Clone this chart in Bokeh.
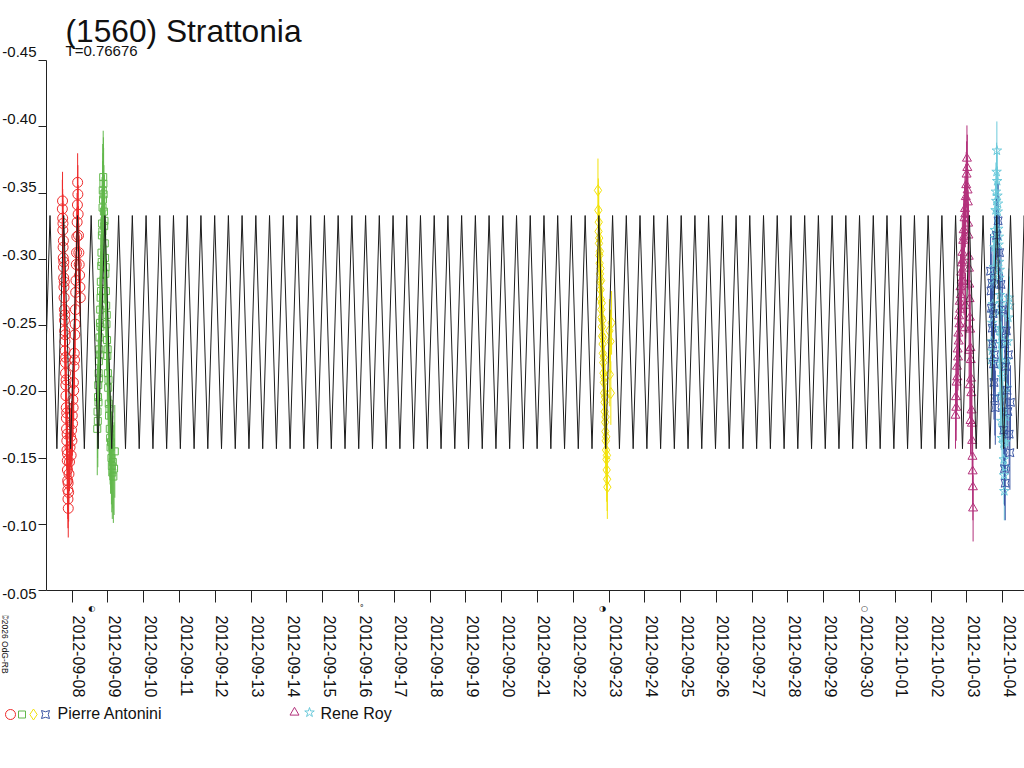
import math
from bokeh.plotting import figure
from bokeh.models import (Range1d, FixedTicker, ColumnDataSource, LabelSet, Label,
                          CustomJSTickFormatter)
from bokeh.core.properties import value
from bokeh.layouts import column, row
from bokeh.embed import file_html
from bokeh.resources import INLINE

# ---------------- data ----------------
TITLE = "(1560) Strattonia"
PERIOD_LABEL = "T=0.76676"
CREDIT = "\u00a92026 OdG-RB"

# x: days since 2012-09-08 00:00 UT
DATE_LABELS = ["2012-09-08", "2012-09-09", "2012-09-10", "2012-09-11", "2012-09-12",
               "2012-09-13", "2012-09-14", "2012-09-15", "2012-09-16", "2012-09-17",
               "2012-09-18", "2012-09-19", "2012-09-20", "2012-09-21", "2012-09-22",
               "2012-09-23", "2012-09-24", "2012-09-25", "2012-09-26", "2012-09-27",
               "2012-09-28", "2012-09-29", "2012-09-30", "2012-10-01", "2012-10-02",
               "2012-10-03", "2012-10-04"]
Y_TICKS = [-0.45, -0.40, -0.35, -0.30, -0.25, -0.20, -0.15, -0.10, -0.05]
Y_TICK_LABELS = ["-0.45", "-0.40", "-0.35", "-0.30", "-0.25", "-0.20", "-0.15", "-0.10", "-0.05"]

# moon phases (last quarter, new, first quarter, full)
MOON_DAYS = [0.552, 8.091, 14.820, 22.138]
MOON_SYMBOLS = ["\u25d0", "\u00b0", "\u25d1", "\u25cb"]

# model light curve: times of maxima (bright) and minima (faint)
CURVE_BRIGHT = -0.333
CURVE_FAINT = -0.157
CURVE_MAX_T = [-0.620, -0.237, 0.147, 0.530, 0.914, 1.297, 1.680, 2.064, 2.447, 2.830,
               3.214, 3.597, 3.981, 4.364, 4.747, 5.131, 5.514, 5.897, 6.281, 6.664,
               7.048, 7.431, 7.814, 8.198, 8.581, 8.965, 9.348, 9.731, 10.115, 10.498,
               10.881, 11.265, 11.648, 12.032, 12.415, 12.798, 13.182, 13.565, 13.948, 14.332,
               14.715, 15.099, 15.482, 15.865, 16.249, 16.632, 17.016, 17.399, 17.782, 18.166,
               18.549, 18.932, 19.316, 19.699, 20.083, 20.466, 20.849, 21.233, 21.616, 21.999,
               22.383, 22.766, 23.150, 23.533, 23.916, 24.300, 24.683, 25.067, 25.450, 25.833,
               26.217, 26.600]
CURVE_MIN_T = [-0.812, -0.428, -0.045, 0.339, 0.722, 1.105, 1.489, 1.872, 2.256, 2.639,
               3.022, 3.406, 3.789, 4.172, 4.556, 4.939, 5.323, 5.706, 6.089, 6.473,
               6.856, 7.239, 7.623, 8.006, 8.390, 8.773, 9.156, 9.540, 9.923, 10.306,
               10.690, 11.073, 11.457, 11.840, 12.223, 12.607, 12.990, 13.374, 13.757, 14.140,
               14.524, 14.907, 15.290, 15.674, 16.057, 16.441, 16.824, 17.207, 17.591, 17.974,
               18.357, 18.741, 19.124, 19.508, 19.891, 20.274, 20.658, 21.041, 21.424, 21.808,
               22.191, 22.575, 22.958, 23.341, 23.725, 24.108, 24.491, 24.875, 25.258, 25.642,
               26.025, 26.408, 26.792]

# Pierre Antonini, 2012-09-08 (circles)
RED_T = [-0.275, -0.270, -0.266, -0.262, -0.258, -0.254, -0.250, -0.246, -0.242, -0.238,
         -0.234, -0.230, -0.226, -0.222, -0.218, -0.214, -0.210, -0.206, -0.202, -0.198,
         -0.194, -0.190, -0.186, -0.182, -0.178, -0.174, -0.170, -0.166, -0.162, -0.158,
         -0.154, -0.150, -0.146, -0.142, -0.138, -0.134, -0.130, -0.126, -0.122, -0.118,
         -0.114, -0.110, -0.100, -0.090, -0.075, -0.060, -0.045, -0.030, -0.018, -0.008,
         0.002, 0.010, 0.018, 0.026, 0.034, 0.042, 0.050, 0.058, 0.066, 0.074,
         0.082, 0.090, 0.098, 0.106, 0.114, 0.122, 0.130, 0.138, 0.146, 0.152,
         0.158, 0.166, 0.176, 0.186, 0.196, 0.206, 0.216, 0.226]
RED_MAG = [-0.338, -0.344, -0.331, -0.322, -0.327, -0.309, -0.301, -0.314, -0.294, -0.286,
           -0.298, -0.279, -0.271, -0.283, -0.262, -0.254, -0.246, -0.258, -0.238, -0.231,
           -0.243, -0.222, -0.214, -0.226, -0.205, -0.197, -0.209, -0.188, -0.180, -0.172,
           -0.184, -0.163, -0.156, -0.168, -0.148, -0.141, -0.153, -0.133, -0.126, -0.119,
           -0.131, -0.112, -0.124, -0.138, -0.147, -0.158, -0.166, -0.152, -0.171, -0.163,
           -0.182, -0.176, -0.194, -0.188, -0.207, -0.201, -0.219, -0.229, -0.224, -0.243,
           -0.251, -0.262, -0.275, -0.284, -0.296, -0.305, -0.317, -0.328, -0.341, -0.358,
           -0.349, -0.334, -0.318, -0.305, -0.296, -0.288, -0.279, -0.271]
RED_ERR = 0.022

# Pierre Antonini, 2012-09-08/09 (squares)
GREEN_T = [0.700, 0.708, 0.716, 0.722, 0.728, 0.734, 0.740, 0.746, 0.752, 0.758,
           0.764, 0.770, 0.776, 0.782, 0.788, 0.794, 0.800, 0.806, 0.812, 0.818,
           0.824, 0.830, 0.836, 0.842, 0.848, 0.854, 0.860, 0.866, 0.872, 0.878,
           0.886, 0.894, 0.902, 0.910, 0.918, 0.926, 0.934, 0.942, 0.950, 0.958,
           0.966, 0.974, 0.982, 0.990, 0.998, 1.006, 1.014, 1.022, 1.030, 1.040,
           1.050, 1.060, 1.072, 1.084, 1.096, 1.108, 1.120, 1.135, 1.150, 1.170, 1.190]
GREEN_MAG = [-0.172, -0.185, -0.178, -0.196, -0.205, -0.192, -0.214, -0.223, -0.210, -0.232,
             -0.241, -0.228, -0.252, -0.262, -0.249, -0.271, -0.283, -0.276, -0.295, -0.305,
             -0.298, -0.318, -0.327, -0.321, -0.339, -0.352, -0.345, -0.362, -0.357, -0.349,
             -0.336, -0.325, -0.329, -0.312, -0.301, -0.289, -0.294, -0.276, -0.265, -0.251,
             -0.258, -0.239, -0.227, -0.232, -0.214, -0.203, -0.209, -0.191, -0.182, -0.187,
             -0.172, -0.165, -0.158, -0.162, -0.150, -0.144, -0.139, -0.147, -0.136, -0.142, -0.155]
GREEN_ERR = 0.035

# Pierre Antonini, 2012-09-22/23 (diamonds)
YELLOW_T = [14.690, 14.700, 14.706, 14.712, 14.718, 14.724, 14.730, 14.736, 14.742, 14.748,
            14.754, 14.760, 14.766, 14.772, 14.778, 14.784, 14.790, 14.796, 14.802, 14.808,
            14.814, 14.820, 14.826, 14.832, 14.838, 14.844, 14.850, 14.856, 14.862, 14.868,
            14.874, 14.880, 14.886, 14.892, 14.898, 14.904, 14.910, 14.916, 14.922, 14.928,
            14.934, 14.940, 14.946, 14.952, 15.010, 15.040, 15.070, 15.020, 15.050]
YELLOW_MAG = [-0.352, -0.337, -0.321, -0.328, -0.312, -0.316, -0.303, -0.297, -0.306, -0.289,
              -0.283, -0.293, -0.277, -0.270, -0.284, -0.262, -0.256, -0.267, -0.249, -0.242,
              -0.254, -0.236, -0.229, -0.241, -0.222, -0.214, -0.226, -0.207, -0.199, -0.211,
              -0.192, -0.185, -0.196, -0.177, -0.170, -0.181, -0.163, -0.156, -0.166, -0.149,
              -0.141, -0.152, -0.134, -0.128, -0.246, -0.238, -0.252, -0.213, -0.199]
YELLOW_ERR = 0.024

# Pierre Antonini, 2012-10-03/04 (square pins)
BLUE_T = [25.660, 25.672, 25.684, 25.696, 25.708, 25.720, 25.732, 25.744, 25.756, 25.768,
          25.780, 25.792, 25.830, 25.870, 25.910, 25.950, 25.990, 26.030, 26.060, 26.080,
          26.100, 26.120, 26.140, 26.160, 26.180, 26.200, 26.215, 26.050, 26.070]
BLUE_MAG = [-0.291, -0.276, -0.263, -0.282, -0.248, -0.236, -0.259, -0.221, -0.207, -0.228,
            -0.195, -0.188, -0.318, -0.329, -0.305, -0.281, -0.262, -0.171, -0.236, -0.219,
            -0.246, -0.201, -0.185, -0.228, -0.168, -0.154, -0.192, -0.142, -0.131]
BLUE_ERR = 0.028

# Rene Roy, 2012-10-02/03 (triangles)
MAGENTA_T = [24.680, 24.690, 24.700, 24.710, 24.720, 24.730, 24.740, 24.750, 24.760, 24.770,
             24.780, 24.790, 24.800, 24.810, 24.820, 24.830, 24.840, 24.850, 24.860, 24.872,
             24.884, 24.896, 24.908, 24.920, 24.932, 24.944, 24.956, 24.968, 24.980, 24.990,
             25.000, 25.010, 25.018, 25.026, 25.034, 25.042, 25.050, 25.058, 25.066, 25.074,
             25.082, 25.090, 25.098, 25.106, 25.114, 25.122, 25.130, 25.138, 25.146, 25.154,
             25.160, 25.166, 25.172, 25.100, 25.080, 25.060, 24.960, 24.940, 24.920]
MAGENTA_MAG = [-0.182, -0.196, -0.188, -0.207, -0.219, -0.211, -0.232, -0.226, -0.244, -0.238,
               -0.257, -0.251, -0.268, -0.262, -0.279, -0.273, -0.290, -0.284, -0.297, -0.305,
               -0.299, -0.314, -0.322, -0.317, -0.331, -0.338, -0.334, -0.347, -0.356, -0.364,
               -0.376, -0.369, -0.352, -0.343, -0.327, -0.318, -0.302, -0.293, -0.281, -0.270,
               -0.256, -0.247, -0.233, -0.224, -0.210, -0.199, -0.186, -0.176, -0.163, -0.151,
               -0.140, -0.128, -0.112, -0.178, -0.205, -0.231, -0.265, -0.248, -0.283]
MAGENTA_ERR = 0.025

# Rene Roy, 2012-10-03/04 (stars)
CYAN_T = [25.680, 25.690, 25.700, 25.710, 25.720, 25.730, 25.740, 25.750, 25.760, 25.770,
          25.780, 25.790, 25.800, 25.810, 25.820, 25.828, 25.836, 25.844, 25.852, 25.860,
          25.868, 25.876, 25.884, 25.892, 25.900, 25.908, 25.916, 25.924, 25.932, 25.940,
          25.948, 25.956, 25.964, 25.972, 25.980, 25.988, 25.996, 26.004, 26.012, 26.020,
          26.028, 26.036, 26.044, 26.060, 26.076, 26.092, 26.108, 26.124, 26.140, 26.156,
          26.172, 26.188, 25.900, 25.920, 25.940, 25.960, 25.980]
CYAN_MAG = [-0.224, -0.238, -0.231, -0.252, -0.266, -0.259, -0.281, -0.294, -0.288, -0.309,
            -0.322, -0.316, -0.337, -0.351, -0.344, -0.366, -0.382, -0.359, -0.348, -0.336,
            -0.342, -0.323, -0.311, -0.317, -0.298, -0.286, -0.292, -0.273, -0.261, -0.267,
            -0.248, -0.236, -0.242, -0.223, -0.211, -0.217, -0.198, -0.186, -0.173, -0.161,
            -0.149, -0.137, -0.125, -0.143, -0.162, -0.181, -0.203, -0.224, -0.238, -0.256,
            -0.271, -0.265, -0.246, -0.221, -0.196, -0.178, -0.165]
CYAN_ERR = 0.022

OBSERVERS = ["Pierre Antonini", "Rene Roy"]

# ---------------- styles / layout ----------------
FONT = "Liberation Sans"
SYMFONT = "DejaVu Sans"
TXT = "#111111"
AXIS_COLOR = "#222222"
CURVE_COLOR = "#1c1c1c"
RED, GREEN, YELLOW, BLUE, MAGENTA, CYAN = ("#ee2b2b", "#62b84c", "#f2e20c",
                                           "#3a55a4", "#b3317b", "#6ccadb")

W, H = 1024, 768
FL, FT, FB = 46, 60, 602      # frame left / top / bottom (page px)
TICK_Y, TICK_X = 8, 12        # tick lengths
SPLIT = 615                   # top of the bottom strip
LEFT_W = FL - TICK_Y          # width of left label strip
X0, X1 = -0.718, 26.608       # days at frame left / right
PX_PER_DAY = (W - FL) / (X1 - X0)
MAG_PER_PX = (Y_TICKS[-1] - Y_TICKS[0]) / (FB - FT)


def strip(width, height, x_range, y_range):
    f = figure(width=width, height=height, output_backend="svg", toolbar_location=None,
               x_range=x_range, y_range=y_range, x_axis_type=None, y_axis_type=None,
               min_border=0, title=None)
    f.outline_line_color = None
    f.grid.visible = False
    f.background_fill_color = "white"
    f.border_fill_color = "white"
    return f


# ---- main plot ----
p = figure(width=W - LEFT_W, height=SPLIT - FT, output_backend="svg", toolbar_location=None,
           x_range=Range1d(X0, X1), y_range=Range1d(Y_TICKS[-1], Y_TICKS[0]),
           min_border_left=TICK_Y, min_border_right=0, min_border_top=0,
           min_border_bottom=SPLIT - FB, title=None)
p.outline_line_color = None
p.grid.visible = False
p.background_fill_color = "white"
p.border_fill_color = "white"

day_ticks = list(range(len(DATE_LABELS)))
p.xaxis.ticker = FixedTicker(ticks=MOON_DAYS, minor_ticks=day_ticks)
p.xaxis.formatter = CustomJSTickFormatter(
    args=dict(days=MOON_DAYS, syms=MOON_SYMBOLS),
    code="const i = days.findIndex(d => Math.abs(d - tick) < 1e-6); return i < 0 ? '' : syms[i];")
p.xaxis.major_tick_out = 0
p.xaxis.major_tick_in = 0
p.xaxis.minor_tick_out = TICK_X
p.xaxis.minor_tick_in = 0
p.xaxis.minor_tick_line_color = AXIS_COLOR
p.xaxis.major_label_standoff = 1
p.xaxis.major_label_text_font = SYMFONT
p.xaxis.major_label_text_font_size = "8px"
p.xaxis.major_label_text_color = TXT
p.xaxis.axis_line_color = AXIS_COLOR

p.yaxis.ticker = FixedTicker(ticks=Y_TICKS)
p.yaxis.formatter = CustomJSTickFormatter(code="return '';")
p.yaxis.major_tick_out = TICK_Y
p.yaxis.major_tick_in = 0
p.yaxis.minor_tick_line_color = None
p.yaxis.major_label_standoff = 0
p.yaxis.axis_line_color = AXIS_COLOR
p.yaxis.major_tick_line_color = AXIS_COLOR

sessions = [
    (RED_T, RED_MAG, RED_ERR, RED, "circle", 10),
    (GREEN_T, GREEN_MAG, GREEN_ERR, GREEN, "square", 7),
    (YELLOW_T, YELLOW_MAG, YELLOW_ERR, YELLOW, "diamond", 11),
    (MAGENTA_T, MAGENTA_MAG, MAGENTA_ERR, MAGENTA, "triangle", 9),
    (CYAN_T, CYAN_MAG, CYAN_ERR, CYAN, "star", 10),
    (BLUE_T, BLUE_MAG, BLUE_ERR, BLUE, "square_pin", 8),
]
for ts, ms, err, col, mk, sz in sessions:
    src = ColumnDataSource(dict(t=ts, m=ms, lo=[v - err for v in ms], hi=[v + err for v in ms]))
    p.segment(x0="t", y0="lo", x1="t", y1="hi", source=src, line_color=col, line_width=1)
for ts, ms, err, col, mk, sz in sessions:
    src = ColumnDataSource(dict(t=ts, m=ms))
    p.scatter(x="t", y="m", source=src, marker=mk, size=sz, line_color=col,
              fill_color=None, line_width=1)

pts = sorted([(t, CURVE_BRIGHT) for t in CURVE_MAX_T] + [(t, CURVE_FAINT) for t in CURVE_MIN_T])
p.line(x=[a for a, b in pts], y=[b for a, b in pts], line_color=CURVE_COLOR, line_width=1)

# ---- left strip: y tick labels (same magnitude scale as the plot) ----
left = strip(LEFT_W, SPLIT, Range1d(0, LEFT_W),
             Range1d(Y_TICKS[0] + (SPLIT - FT) * MAG_PER_PX, Y_TICKS[0] - FT * MAG_PER_PX))
ysrc = ColumnDataSource(dict(y=Y_TICKS, text=Y_TICK_LABELS))
left.add_layout(LabelSet(x=LEFT_W - 2, y="y", text="text", source=ysrc,
                         text_align="right", text_baseline="alphabetic", y_offset=4,
                         text_font=value(FONT), text_font_size="15px", text_color=TXT))

# ---- top strip: title ----
top = strip(W - LEFT_W, FT, Range1d(LEFT_W, W), Range1d(FT, 0))
top.add_layout(Label(x=65, y=30, text=TITLE, text_font=FONT, text_font_size="31.7px",
                     text_color=TXT, text_baseline="alphabetic"))
top.add_layout(Label(x=65, y=50, text=PERIOD_LABEL, text_font=FONT, text_font_size="15px",
                     text_color=TXT, text_baseline="alphabetic"))

# ---- bottom strip: date labels, credit, legend ----
bot = strip(W, H - SPLIT, Range1d(X0 - FL / PX_PER_DAY, X1), Range1d(H, SPLIT))
bot.extra_x_ranges = {"px": Range1d(0, W)}
xsrc = ColumnDataSource(dict(x=day_ticks, text=DATE_LABELS))
bot.text(x="x", y=SPLIT, text="text", source=xsrc, angle=-math.pi / 2, text_align="left",
         text_baseline="middle", x_offset=7, text_font=value(FONT), text_font_size="16px",
         text_color=TXT)
bot.text(x=[4.5], y=[SPLIT - 2], text=[CREDIT], x_range_name="px", angle=-math.pi / 2,
         text_align="left", text_baseline="middle", text_font=value(FONT),
         text_font_size="8.5px", text_color=TXT)

legend_icons = [
    [(10, 714, RED, "circle", 10), (21.5, 714, GREEN, "square", 7),
     (33, 714, YELLOW, "diamond", 11), (45, 714, BLUE, "square_pin", 8)],
    [(294, 712, MAGENTA, "triangle", 9), (309, 712, CYAN, "star", 10)],
]
legend_text_x = [57, 320]
for name, icons, tx in zip(OBSERVERS, legend_icons, legend_text_x):
    for ix, iy, col, mk, sz in icons:
        bot.scatter(x=[ix], y=[iy], x_range_name="px", marker=mk, size=sz, line_color=col,
                    fill_color=None, line_width=1)
    bot.text(x=[tx], y=[713], text=[name], x_range_name="px", text_align="left",
             text_baseline="alphabetic", text_font=value(FONT), text_font_size="16px",
             text_color=TXT)

for f in (p, left, top, bot):
    if "frame_align" in f.properties():
        f.frame_align = False

layout = column(row(left, column(top, p, spacing=0), spacing=0), bot, spacing=0)
open("out.html", "w").write(file_html(layout, INLINE))
